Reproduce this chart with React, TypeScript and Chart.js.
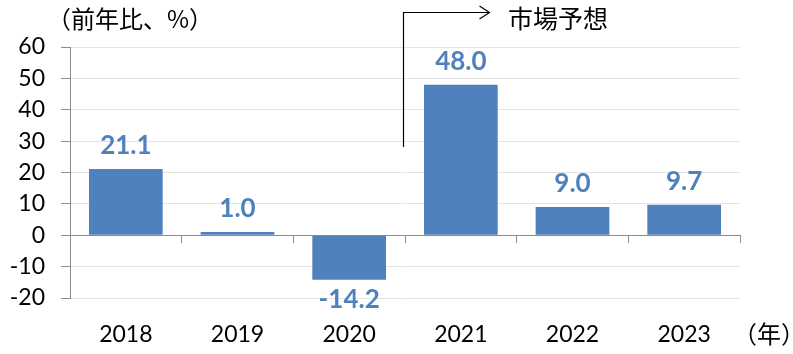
import React, { useEffect, useRef } from "react";
import { Chart, registerables } from "chart.js";

Chart.register(...registerables);

const categories = ["2018", "2019", "2020", "2021", "2022", "2023"];
const growth = [21.1, 1.0, -14.2, 48.0, 9.0, 9.7];
const yTicks = [-20, -10, 0, 10, 20, 30, 40, 50, 60];
const unitY = "（前年比、%）";
const unitX = "（年）";
const forecastLabel = "市場予想";

const NUM_FONT = "Lato, 'Noto Sans', sans-serif";
const CJK_FONT = "'Noto Sans CJK JP', 'Noto Sans', sans-serif";
const BAR_COLOR = "#4f81bd";

const overlayPlugin = {
  id: "overlay",
  afterDatasetsDraw(chart: any) {
    const ctx = chart.ctx;
    const meta = chart.getDatasetMeta(0);
    ctx.save();
    ctx.fillStyle = BAR_COLOR;
    ctx.font = `bold 26px ${NUM_FONT}`;
    ctx.textAlign = "center";
    ctx.textBaseline = "alphabetic";
    meta.data.forEach((bar: any, i: number) => {
      const v = growth[i];
      const txt = v.toFixed(1);
      if (v >= 0) {
        ctx.fillText(txt, bar.x, bar.y - 15);
      } else {
        ctx.fillText(txt, bar.x, bar.y + 28);
      }
    });
    ctx.restore();
  },
  afterDraw(chart: any) {
    const ctx = chart.ctx;
    const xs = chart.scales.x;
    ctx.save();
    ctx.fillStyle = "#000";
    ctx.textBaseline = "middle";
    ctx.textAlign = "left";
    ctx.font = `24px ${CJK_FONT}`;
    ctx.fillText(unitY, 47, 19);
    ctx.fillText(unitX, 733, 334);
    ctx.font = `25px ${CJK_FONT}`;
    ctx.fillText(forecastLabel, 508, 18);

    // forecast arrow
    const bx = (xs.getPixelForValue(2) + xs.getPixelForValue(3)) / 2 - 2.5;
    const ax = Math.round(bx) + 0.5;
    ctx.strokeStyle = "#000";
    ctx.lineWidth = 1.2;
    ctx.beginPath();
    ctx.moveTo(ax, 147);
    ctx.lineTo(ax, 12.5);
    ctx.lineTo(ax + 86, 12.5);
    ctx.stroke();
    ctx.beginPath();
    ctx.moveTo(ax + 76, 6);
    ctx.lineTo(ax + 86, 12.5);
    ctx.lineTo(ax + 76, 19);
    ctx.stroke();
    ctx.restore();
  },
};

export default function App() {
  const ref = useRef<HTMLCanvasElement | null>(null);
  useEffect(() => {
    if (!ref.current) return;
    const chart = new Chart(ref.current, {
      type: "bar",
      data: {
        labels: categories,
        datasets: [
          {
            data: growth,
            backgroundColor: BAR_COLOR,
            borderWidth: 0,
            barPercentage: 0.66,
            categoryPercentage: 1,
            xAxisID: "x",
          },
        ],
      },
      options: {
        animation: false,
        responsive: true,
        maintainAspectRatio: false,
        layout: { padding: { left: 0, right: 53, top: 47, bottom: 0 } },
        plugins: {
          legend: { display: false },
          tooltip: { enabled: false },
        },
        scales: {
          x: {
            type: "category",
            position: "bottom",
            grid: { display: false, drawTicks: false },
            border: { display: false },
            ticks: {
              color: "#000",
              font: { family: NUM_FONT, size: 23 },
              padding: 23,
              maxRotation: 0,
            },
            afterFit(scale: any) {
              scale.height = 56;
            },
          },
          x2: {
            type: "category",
            labels: categories,
            position: { y: 0 },
            offset: true,
            grid: {
              display: true,
              drawOnChartArea: false,
              drawTicks: true,
              tickLength: 7,
              offset: true,
              color: "#8c8c8c",
              tickColor: "#8c8c8c",
            },
            border: { display: true, color: "#8c8c8c", width: 1 },
            ticks: { display: false },
          },
          y: {
            min: -20,
            max: 60,
            afterBuildTicks(scale: any) {
              scale.ticks = yTicks.map((v) => ({ value: v }));
            },
            grid: {
              color: "#e4e4e4",
              tickColor: "#8c8c8c",
              tickLength: 9,
              drawTicks: true,
            },
            border: { display: true, color: "#8c8c8c", width: 1 },
            ticks: {
              color: "#000",
              font: { family: NUM_FONT, size: 23 },
              padding: 16,
            },
            afterFit(scale: any) {
              scale.width = 70;
            },
          },
        },
      } as any,
      plugins: [overlayPlugin],
    });
    return () => chart.destroy();
  }, []);
  return (
    <div style={{ position: "fixed", left: 0, top: 0, width: 793, height: 354, background: "#fff" }}>
      <canvas ref={ref} />
    </div>
  );
}
